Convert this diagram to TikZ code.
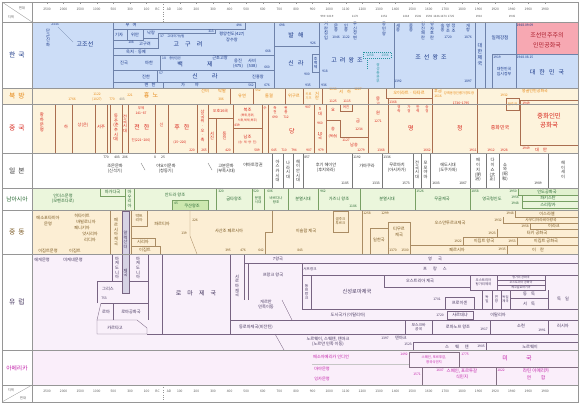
\documentclass[tikz,border=0pt]{standalone}
\usepackage{fontspec}
\setmainfont{Noto Sans CJK KR}
\usetikzlibrary{positioning}

\definecolor{krfill}{RGB}{204,221,247}
\definecolor{krline}{RGB}{110,130,170}
\definecolor{krtext}{RGB}{25,55,135}
\definecolor{dprkfill}{RGB}{247,168,178}
\definecolor{dprktext}{RGB}{170,25,40}
\definecolor{sstext}{RGB}{40,150,160}
\definecolor{cnfill}{RGB}{253,243,220}
\definecolor{cnline}{RGB}{170,110,80}
\definecolor{cntext}{RGB}{215,35,25}
\definecolor{nbtext}{RGB}{230,135,20}
\definecolor{jptext}{RGB}{50,50,50}
\definecolor{jpline}{RGB}{120,120,120}
\definecolor{safill}{RGB}{235,246,220}
\definecolor{sabox}{RGB}{205,232,175}
\definecolor{satext}{RGB}{40,105,50}
\definecolor{saline}{RGB}{120,160,100}
\definecolor{mefill}{RGB}{252,238,212}
\definecolor{metext}{RGB}{120,85,30}
\definecolor{meline}{RGB}{170,140,100}
\definecolor{eufill}{RGB}{249,240,250}
\definecolor{eutext}{RGB}{70,55,95}
\definecolor{euline}{RGB}{120,100,130}
\definecolor{alexfill}{RGB}{214,210,228}
\definecolor{amfill}{RGB}{250,238,250}
\definecolor{amtext}{RGB}{195,35,170}
\definecolor{amline}{RGB}{130,110,130}
\definecolor{gridgray}{RGB}{150,150,150}
\definecolor{headtext}{RGB}{90,90,90}

\newcommand{\fs}[1]{\fontsize{#1}{#1}\selectfont}
\newcommand{\til}{\textasciitilde}
\newcounter{nd}
\newcommand{\yr}[3][]{\stepcounter{nd}\node [yr, #1] (y\thend) at (#2) {#3};}
\newcommand{\lbl}[3][]{\stepcounter{nd}\node [lbl, #1] (l\thend) at (#2) {#3};}
\newcommand{\vlbl}[3][]{\stepcounter{nd}\node [vlbl, #1] (v\thend) at (#2) {#3};}

\tikzset{
  yr/.style = {inner sep = 0pt, font = \fs{3.3}},
  lbl/.style = {inner sep = 0pt, align = center, font = \fontsize{4.2}{5.2}\selectfont},
  vlbl/.style = {inner sep = 0pt, align = center, font = \fontsize{4.2}{4.7}\selectfont},
  big/.style = {font = \fontsize{6}{10}\selectfont},
  rowname/.style = {inner sep = 0pt, font = \fs{6.8}},
  rowline/.style = {draw = gridgray, line width = 0.5pt},
  tickmark/.style = {draw = gridgray, line width = 0.3pt},
  part/.style = {line width = 0.35pt}
}

\begin{document}
\begin{tikzpicture}[x = 1pt, y = -1pt]
\useasboundingbox (0,0) rectangle (580,404);
\fill [white] (0,0) rectangle (580,404);

%% Backgrounds
\fill [krfill] (32,22) rectangle (578,88);
\fill [dprkfill] (516,22) rectangle (578,54);
\fill [cnfill] (32,88) rectangle (578,153);
\fill [cnfill] (2,88) rectangle (32,104);
\fill [safill] (32,188) rectangle (578,210);
\fill [mefill] (32,210) rectangle (578,254);
\fill [eufill] (32,254) rectangle (578,350);
\fill [amfill] (32,350) rectangle (578,385);

%% Time axis
\foreach \lab [count = \i from 0] in {2500,2000,1500,1000,500,300,100} {
  \node [yr, text = headtext] (top\i) at ({47+16.6*\i},9) {\lab};
  \node [yr, text = headtext] (bot\i) at ({47+16.6*\i},391) {\lab};
  \draw [tickmark] ({47+16.6*\i},2) -- ({47+16.6*\i},4.5);
}
\foreach \lab [count = \i from 8] in {100,200,300,400,500,600,700,800,900,1000,1100,1200,1300,1400,1500,1600,1700,1800,1900,1920,1940,1960,1980} {
  \node [yr, text = headtext] (top\i) at ({47+16.6*\i},9) {\lab};
  \node [yr, text = headtext] (bot\i) at ({47+16.6*\i},391) {\lab};
  \draw [tickmark] ({47+16.6*\i},2) -- ({47+16.6*\i},4.5);
}
\node [yr, text = headtext] (bct) at (157.5,9) {BC};
\node [yr, text = headtext] (adt) at (169,9) {AD};
\node [yr, text = headtext] (bcb) at (157.5,391) {BC};
\node [yr, text = headtext] (adb) at (169,391) {AD};
\draw [gridgray, dotted] (163.4,2) -- (163.4,22);
\draw [gridgray, dotted] (163.4,385) -- (163.4,402);

%% Event years
\begin{scope} [text = headtext]
  \yr[font = \fs{2.9}]{327,16}{993\til1019}
  \yr[font = \fs{2.9}]{355,16}{1170}
  \yr[font = \fs{2.9}]{384,16}{1351}
  \yr[font = \fs{2.9}]{406,16}{1418}
  \yr[font = \fs{2.9}]{418,16}{1506}
  \yr[font = \fs{2.9}]{429,16}{1592}
  \yr[font = \fs{2.9}]{436.5,16}{1636}
  \yr[font = \fs{2.9}]{443.5,16}{1674}
  \yr[font = \fs{2.9}]{451,16}{1725}
  \yr[font = \fs{2.9}]{479,16}{1910}
  \yr[font = \fs{2.9}]{512,16}{1945}
\end{scope}

%% Corners
\draw [tickmark] (2,2) -- (32,22);
\node [yr, text = headtext] (cy1) at (22,8) {연대};
\node [yr, text = headtext] (cx1) at (11,17) {지역};
\draw [tickmark] (2,402) -- (32,385);
\node [yr, text = headtext] (cx2) at (11,390) {지역};
\node [yr, text = headtext] (cy2) at (23,398) {연대};

%% Row names
\node [rowname, text = krtext] (rkr) at (17,55) {한\hspace{3pt}국};
\node [rowname, text = nbtext] (rnb) at (17,96) {북\hspace{3pt}방};
\node [rowname, text = cntext] (rcn) at (17,128) {중\hspace{3pt}국};
\node [rowname, text = jptext] (rjp) at (17,171) {일\hspace{3pt}본};
\node [rowname, text = satext, font = \fs{5.8}] (rsa) at (17,199) {남아시아};
\node [rowname, text = metext] (rme) at (17,232) {중\hspace{3pt}동};
\node [rowname, text = eutext] (reu) at (17,302) {유\hspace{3pt}럽};
\node [rowname, text = amtext, font = \fs{5.8}] (ram) at (17,368) {아메리카};

%%% Korea
\begin{scope} [color = krline, text = krtext, part]
  %% Gojoseon
  \vlbl{48,38}{단\\군\\신\\화}
  \yr{55,24}{2333}
  \draw (58,27) -- (73,42);
  \lbl[big]{85,44}{고조선}
  \draw (113,22) -- (113,88);
  \draw (113,29) -- (245,29) -- (245,22);
  \lbl{131,25}{부\hspace{3pt}여}
  \yr{239,25.5}{494}
  \lbl{119,35}{기자}
  \lbl{135,35}{위만}
  \lbl{151,33}{낙랑}
  \draw (127,29) -- (127,40);
  \draw (113,40) -- (143,40) -- (143,29);
  \draw (143,38) -- (158,38) -- (158,33) -- (215,33) -- (215,29);
  \yr{211,31}{313}
  \yr{131,42.5}{108}
  \lbl{145,44}{고구려}
  \draw (113,48) -- (158,48) -- (158,38);
  \lbl{136,51.5}{옥저 · 동예}
  %% Goguryeo
  \yr{162,36}{37}
  \lbl[font = \fs{3.1}]{176,36}{고대국가성립}
  \lbl[big]{188,44}{고\hspace{6pt}구\hspace{6pt}려}
  \lbl{232,37}{평양천도(427)\\장수왕}
  \yr{268,51}{668}
  \draw (113,55) -- (274,55);
  \draw (274,22) -- (274,88);
  %% Baekje
  \lbl{124,63}{진국}
  \lbl{149,63}{마한}
  \draw (160,55) -- (160,70);
  \yr{164,58}{18}
  \lbl[font = \fs{3.1}]{175,58}{중앙집권}
  \lbl[big]{195,64}{백\hspace{24pt}제}
  \lbl{220,58}{근초고왕}
  \lbl{238,63.5}{웅진\\(475)}
  \lbl{252,63.5}{사비\\(538)}
  \yr{267,67}{660}
  \draw (113,70) -- (274,70);
  %% Silla, Gaya
  \lbl{146,76.5}{진한}
  \yr{161,73}{57}
  \draw (157,70) -- (157,82);
  \lbl[big]{205,76.5}{신\hspace{14pt}라}
  \lbl{258,76.5}{진흥왕}
  \draw (113,82) -- (255,82) -- (255,88);
  \draw (163,82) -- (163,88);
  \lbl{150,85}{변\hspace{3pt}한}
  \lbl{190,85}{가\hspace{10pt}야}
  \yr{251,85.5}{562}
  \yr{267,85.5}{676}
  %% Balhae, Unified Silla
  \draw (274,46) -- (319,46);
  \draw (319,22) -- (319,88);
  \yr{282,25}{698}
  \lbl[big]{296,35}{발\hspace{4pt}해}
  \yr{313,43}{926}
  \lbl[big]{296,63}{신\hspace{4pt}라}
  \draw (312,54) rectangle (319,72);
  \vlbl[font = \fontsize{3.8}{4.4}\selectfont]{315.5,63}{후\\백\\제}
  \yr{307,74}{900}
  \yr{325,71}{918}
  \yr{308,85.5}{935}
  \yr{324,85.5}{936}
  %% Goryeo
  \vlbl{326,31}{거\\란\\침\\입}
  \vlbl{336,28}{문\\종}
  \yr{336,37}{1046}
  \vlbl{346,28}{인\\종}
  \yr{346,37}{1122}
  \vlbl{355,31}{무\\신\\정\\변}
  \vlbl{384,29}{공\\민\\왕}
  \lbl[big]{347,60}{고\hspace{3pt}려\hspace{3pt}왕\hspace{3pt}조}
  \begin{scope} [color = sstext, text = sstext, dash pattern = on 1pt off 1pt]
    \draw (363,52) rectangle (391,58);
    \draw (367,58) -- (367,70);
    \yr{370,55}{1258}
    \yr{385,55}{1356}
    \vlbl[font = \fontsize{3.6}{4.1}\selectfont]{378,73}{쌍\\성\\총\\관\\부}
  \end{scope}
  %% Joseon
  \draw (394,22) -- (394,88);
  \vlbl{398,28}{세\\종}
  \vlbl{411,28}{중\\종}
  \vlbl{423,31}{임\\진\\왜\\란}
  \vlbl{432,31}{병\\자\\호\\란}
  \vlbl{442.5,28}{숙\\종}
  \vlbl{448,28}{영\\조}
  \vlbl{453.5,28}{정\\조}
  \yr{448,37}{1720}
  \vlbl{468,28}{개\\항}
  \yr{468,37}{1876}
  \lbl[big]{431,57}{조\hspace{3pt}선\hspace{3pt}왕\hspace{3pt}조}
  \yr{398,81}{1392}
  \yr{468,81}{1897}
  %% Daehan jeguk and after
  \draw (475,22) -- (475,88);
  \draw (485,22) -- (485,88);
  \vlbl[font = \fontsize{5}{6}\selectfont]{480,55}{대\\한\\제\\국}
  \lbl[font = \fs{4.6}]{500,38}{일제강점}
  \draw (492,88) -- (492,54) -- (578,54);
  \draw (516,22) -- (516,88);
  \yr{497,57}{1919}
  \lbl[font = \fontsize{3.9}{5}\selectfont]{504,72}{대한민국\\임시정부}
  \yr{525,25}{1948.09.09}
  \lbl[big, text = dprktext]{547,40}{조선민주주의\\인민공화국}
  \yr{525,57}{1948.08.15}
  \lbl[big]{547,72}{대\hspace{4pt}한\hspace{4pt}민\hspace{4pt}국}
\end{scope}

%%% North and China
\begin{scope} [color = cnline, text = nbtext, part]
  %% North
  \yr{72,99}{1766}
  \yr{97,94}{1122}
  \yr{97,99}{(1027)}
  \yr{112,99}{770}
  \yr[text = gray]{122,99}{403}
  \yr{130,95}{221}
  \lbl[big]{151,95}{흉\hspace{3pt}노}
  \foreach \xx in {230,253,285,303,322}
    \draw (\xx,88) -- (\xx,104);
  \lbl{205,91}{선비}
  \lbl{222,91}{탁발}
  \yr{221,99}{386}
  \lbl{242,96}{유연}
  \yr{258,90}{552}
  \lbl{269,96}{돌궐}
  \lbl{294,96}{위구르}
  \vlbl[font = \fontsize{3.2}{3.8}\selectfont]{308.5,96}{키르\\기즈}
  \vlbl{317,96}{거\\란}
  \lbl{345,92}{서\hspace{4pt}하}
  \yr{333,89.5}{1038}
  \yr{358,89.5}{1227}
  \draw (386,88) -- (386,98) -- (432,98);
  \lbl{409,92.5}{오이라트 · 타타르}
  \lbl{438,91}{후금}
  \yr{438,96.5}{1616}
  \foreach \xx/\nm in {447/강희, 453/옹정, 459/건륭, 465/가경, 471/도광}
    \vlbl[font = \fontsize{3.3}{3.9}\selectfont]{\xx,93}{\nm};
  \lbl[font = \fs{4}]{535,91.5}{몽골인민공화국}
  \yr{504,95}{1932}
  \draw (506,98) rectangle (519,110);
  \lbl[font = \fs{3.3}]{512.5,104}{만주국}

  %% China
  \begin{scope} [text = cntext]
    \foreach \xx in {55,72,95,107,110,122,128,155,168,197,208,262,268,314,326}
      \draw (\xx,104) -- (\xx,153);
    \draw (368,88) -- (368,153);
    \draw (388,98) -- (388,153);
    \draw (432,88) -- (432,153);
    \draw (477,88) -- (477,153);
    \vlbl[font = \fontsize{4.4}{5}\selectfont]{42,122}{황\\하\\문\\명}
    \lbl{66,127}{하}
    \lbl{83,125}{상(은)}
    \lbl{101,127}{서주}
    \vlbl{116,128}{동\\주\\(춘\\추\\시\\대)}
    \vlbl{125,124}{전\\국\\시\\대}
    \lbl[font = \fs{3.4}]{141,140}{진(221\til206)}
    \lbl[font = \fs{3.4}]{141,108}{무제}
    \yr{141,113}{141\til87}
    \lbl[big]{142,127}{전\hspace{4pt}한}
    \lbl{161.5,125}{신}
    \lbl[big]{182,127}{후\hspace{4pt}한}
    \yr{180,142}{(25\til220)}
    \yr{192,150}{220}
    \vlbl{202.5,126}{삼\\국\\위\\·\\오\\·\\촉}
    \yr{204,150}{265}
    \draw (208,118) -- (233,118);
    \draw (233,104) -- (233,153);
    \draw (216,118) -- (216,153);
    \draw (233,128) -- (262,128);
    \lbl[font = \fs{3.9}]{220.5,111}{오호16국}
    \vlbl{212,136}{서\\진}
    \vlbl{224.5,136}{동\\진}
    \yr{228,150}{420}
    \lbl{247.5,115}{북조\\{\fs{3}(북위,동위,}\\{\fs{3}서위,북제,북주)}}
    \yr{237,125}{439}
    \lbl{247.5,137}{남조}
    \lbl[font = \fs{3}]{247.5,143}{(송·제·양·진)}
    \yr{257,150}{589}
    \lbl[font = \fs{3.6}]{265,108}{수}
    \vlbl[font = \fontsize{3.5}{4}\selectfont]{275,110}{측\\천}
    \yr{275,117}{690}
    \vlbl[font = \fontsize{3.5}{4}\selectfont]{286,110}{현\\종}
    \yr{286,117}{712}
    \lbl[big]{292,131}{당}
    \yr{274,150}{645}
    \yr{284,150}{710}
    \yr{294,150}{794}
    \yr{308,107}{907}
    \yr{309,150}{907}
    \vlbl{320,112}{5\\대}
    \yr{320,123}{960}
    \vlbl{320,136}{10\\국}
    \yr{321,150}{979}
    %% Liao, Song, Jin
    \lbl{333,110}{요}
    \yr{333,101}{1125}
    \draw (326,120) -- (340,120) -- (340,137) -- (368,137);
    \draw (340,104) -- (340,111) -- (352,111) -- (352,104);
    \lbl[font = \fs{3.4}]{346,107.5}{여진}
    \yr{347,101}{1115}
    \lbl{358,121}{금}
    \yr{359,129}{1234}
    \lbl{333,129}{송}
    \lbl[font = \fs{3.5}]{333,136}{(북송)}
    \yr{346,140}{1127}
    \lbl{354,145}{남송}
    \yr{361,150}{1279}
    %% Yuan, Ming, Qing
    \vlbl{378,101}{몽\\고}
    \lbl{378,113}{원}
    \yr{378,121}{1271}
    \yr{381,150}{1368}
    \yr{393,102}{1368}
    \vlbl[font = \fontsize{3.5}{4}\selectfont]{399,109}{영\\락}
    \vlbl[font = \fontsize{3.5}{4}\selectfont]{409,109}{가\\정}
    \vlbl[font = \fontsize{3.5}{4}\selectfont]{418,109}{만\\력}
    \vlbl[font = \fontsize{3.5}{4}\selectfont]{427,109}{숭\\정}
    \lbl[big]{411,128}{명}
    \yr{427,150}{1662}
    \yr{461,103}{1736\til1795}
    \lbl[big]{460,128}{청}
    \yr{473,150}{1911}
    \lbl[font = \fs{5}]{500,128}{중화민국}
    \yr{491,150}{1912}
    \yr{504,150}{1928}
    \draw (520,100) rectangle (578,145);
    \yr{526,103}{1949}
    \lbl[font = \fontsize{6.5}{9}\selectfont]{549,121}{중화인민\\공화국}
    \yr{526,148}{1949}
    \lbl{541,149.5}{대\hspace{4pt}만}
  \end{scope}
\end{scope}

%%% Japan
\begin{scope} [color = jpline, text = jptext, part]
  \yr{106,157}{770}
  \yr{117,157}{403}
  \yr{125,157}{206}
  \yr{155,157}{8}
  \yr{163,157}{25}
  \lbl{115,169}{조몬문화\\(신석기)}
  \draw (141,163) -- (145,170);
  \lbl{166,169}{야요이문화\\(청동기)}
  \draw (208,163) -- (212,170);
  \lbl{226,169}{고분문화\\(부족시대)}
  \lbl{253,165}{야마토정권}
  \foreach \xx in {272,283,293,303,352,382,413,421,430,470,486,499,548}
    \draw (\xx,153) -- (\xx,188);
  \vlbl{277.5,171}{아\\스\\카\\시\\대}
  \vlbl{288,170}{나\\라\\시\\대}
  \vlbl{298,171}{헤\\이\\안\\시\\대}
  \yr{307,157}{857}
  \lbl{326,168}{후기 헤이안\\(후지와라)}
  \yr{345,183}{1185}
  \yr{357,157}{1192}
  \lbl{367,166}{가마쿠라}
  \yr{376,183}{1333}
  \yr{387,157}{1336}
  \lbl{397,168}{무로마치\\(아시카가)}
  \yr{406,183}{1573}
  \vlbl{417,170}{전\\국\\시\\대}
  \vlbl{425.5,170}{모\\모\\야\\마}
  \yr{436,183}{1603}
  \lbl{448,168}{에도시대\\(도쿠가와)}
  \yr{463,183}{1867}
  \vlbl{478,170}{메\\이\\지\\(明\\治)}
  \vlbl{492.5,170}{다\\이\\쇼\\(大\\正)}
  \vlbl{505,172}{쇼\\와\\(昭\\和)}
  \yr{538,183}{1989}
  \vlbl{563,170}{헤\\이\\세\\이}
\end{scope}

%%% South Asia
\begin{scope} [color = saline, text = satext, part]
  \lbl{63,199}{인더스문명\\(모헨조다로)}
  \draw (100,188) -- (100,196) -- (125,196);
  \lbl{112.5,192}{마가다국}
  \draw (125,188) -- (125,210);
  \draw (134,188) -- (134,210);
  \vlbl{129.5,199}{마\\우\\리\\아}
  \lbl{175,195}{안드라 왕조}
  \filldraw [fill = sabox] (172,210) -- (172,200) -- (208,200) -- (208,210);
  \yr{176,203}{45}
  \lbl{192,205.5}{쿠샨왕조}
  \foreach \xx in {216,252,264,288,318,360,415,470}
    \draw (\xx,188) -- (\xx,210);
  \yr{221,191}{320}
  \lbl{234,199}{굽타왕조}
  \yr{256,191}{520}
  \lbl[font = \fontsize{3.5}{4.5}\selectfont]{258,200}{분열\\시대}
  \yr{270,191}{606}
  \lbl[font = \fontsize{3.5}{4.5}\selectfont]{276,200}{바르다나\\왕조}
  \lbl{303,199}{분열시대}
  \yr{323,191}{962}
  \lbl{339,199}{가즈니 왕조}
  \yr{353,206}{1186}
  \lbl{387,199}{분열시대}
  \yr{420,191}{1526}
  \lbl{442,199}{무굴제국}
  \yr{475,191}{1858}
  \lbl{492,199}{영국령인도}
  \yr{513,191}{1950}
  \filldraw [fill = sabox!60!white] (518,188) rectangle (578,195);
  \lbl{547,191.5}{인도공화국}
  \draw (522,195) -- (522,208) -- (578,208);
  \draw (522,201) -- (578,201);
  \lbl{548,198}{파키스탄}
  \lbl{548,204.5}{스리랑카}
  \yr{515,197.5}{1956}
  \yr{515,203.5}{1948}
\end{scope}

%%% Middle East
\begin{scope} [color = meline, text = metext, part]
  \lbl{48,221}{메소포타미아\\문명}
  \lbl{82,216}{히타이트}
  \lbl{86,222}{바빌로니아}
  \lbl{82,228}{페니키아}
  \lbl{90,234}{앗시리아}
  \lbl{90,240}{리디아}
  \lbl{48,251}{이집트문명}
  \lbl{75,251}{이집트}
  \draw (110,210) -- (110,254);
  \vlbl{116,232}{페\\르\\시\\아\\제\\국}
  \draw (131,210) -- (131,254);
  \draw (131,226) -- (147,226) -- (147,210);
  \lbl[font = \fontsize{3.8}{4.6}\selectfont]{139,218}{박트\\리아}
  \lbl{162,224}{파르티아}
  \draw (131,238) -- (155,238) -- (155,246) -- (160,246) -- (160,254);
  \draw (131,246) -- (155,246);
  \lbl{143,242}{시리아}
  \lbl{145,250}{이집트}
  \yr{184,233}{139}
  \draw (190,210) -- (190,236) -- (197,254);
  \yr{195,220}{226}
  \lbl{229,231}{사산조 페르시아}
  \yr{228,250}{395}
  \yr{243,250}{476}
  \yr{261,250}{642}
  \draw (265,254) -- (265,232) -- (272,232) -- (272,210);
  \lbl{306,231}{이슬람 제국}
  \yr{300,250}{843}
  \draw (333,211) rectangle (348,232);
  \lbl[font = \fontsize{3.5}{4.5}\selectfont]{340.5,221}{셀주크\\투르크}
  \draw (362,210) -- (362,254);
  \yr{367,213}{1258}
  \draw (370,254) -- (370,228) -- (388,228);
  \lbl{379,240}{일한국}
  \yr{385,213}{1299}
  \draw (388,222) rectangle (410,254);
  \lbl{399,232}{티무르\\제국}
  \yr{393,250}{1370}
  \yr{405,250}{1500}
  \lbl{450,223}{오스만투르크제국}
  \draw (515,210) -- (515,217) -- (578,217);
  \yr{510,213.5}{1948}
  \lbl{547,213.5}{이스라엘}
  \draw (503,217) -- (503,223) -- (578,223);
  \yr{498,220}{1932}
  \lbl[font = \fs{3.8}]{541,220}{사우디아라비아왕국}
  \draw (530,223) -- (530,229) -- (578,229);
  \yr{525,226}{1958}
  \lbl{554,226}{이라크}
  \draw (497,229) -- (497,237) -- (578,237);
  \yr{492,233}{1923}
  \lbl{537,233}{터키 공화국}
  \draw (410,245) -- (578,245);
  \draw (463,237) -- (463,245);
  \draw (463,237) -- (497,237);
  \yr{458,241}{1922}
  \lbl{484,241}{이집트 왕국}
  \draw (517,237) -- (517,245);
  \yr{512,241}{1953}
  \lbl{546,241}{이집트 공화국}
  \lbl{457,249.5}{페르시아}
  \draw (507,245) -- (507,254);
  \yr{502,249.5}{1935}
  \lbl{538,249.5}{이\hspace{4pt}란}
\end{scope}

%%% Europe
\begin{scope} [color = euline, text = eutext, part]
  \lbl{42,260}{에게문명}
  \lbl{73,260}{미케네문명}
  \draw (112,254) -- (112,281);
  \draw (148,254) -- (148,320);
  \vlbl{117,268}{마\\케\\도\\니\\아}
  \vlbl{138,268}{마\\케\\도\\니\\아}
  \filldraw [fill = alexfill] (122,211) rectangle (129,293);
  \vlbl{125.5,240}{알\\렉\\산\\더}
  \vlbl{125.5,273}{제\\국}
  %% Greece, Rome
  \draw (97,303) -- (97,281) -- (122,281);
  \draw (129,281) -- (148,281);
  \lbl{108,289}{그리스}
  \yr{104,298}{753}
  \draw (101,303) -- (148,303);
  \draw (101,303) -- (97,320);
  \draw (113,303) -- (113,320);
  \lbl{106,312}{로마}
  \lbl{131,312}{로마공화국}
  \draw (97,320) -- (137,320) -- (147,328) -- (147,334) -- (97,334) -- cycle;
  \lbl{115,327.5}{카르타고}
  \draw (162,254) -- (162,334);
  \draw (147,334) -- (578,334);
  \lbl[big]{196,293}{로\hspace{6pt}마\hspace{6pt}제\hspace{6pt}국}
  \draw (230,254) -- (230,334);
  \draw (244,254) -- (244,300);
  \vlbl{237,286}{서\\로\\마\\제\\국}
  %% Western kingdoms
  \draw (244,263) -- (578,263);
  \lbl{278,258.5}{7왕국}
  \lbl{435,258.5}{영\hspace{6pt}국}
  \draw (248,263) -- (248,300);
  \lbl{273,275}{프랑크 왕국}
  \draw (302,263) -- (302,309);
  \draw (302,275) -- (578,275);
  \lbl[font = \fs{3.6}]{310,269}{서프랑크}
  \lbl{435,269}{프\hspace{6pt}랑\hspace{6pt}스}
  \draw (311,275) -- (311,309);
  \vlbl[font = \fontsize{3.8}{4.3}\selectfont]{306.5,292}{동\\프\\랑\\크}
  \lbl[font = \fs{5.2}]{357,292}{신성로마제국}
  \lbl{266,304.5}{게르만\\민족이동}
  \draw (282,300) -- (292,320);
  %% Austria, Germany
  \draw (384,275) -- (384,287) -- (470,287);
  \lbl{420,281}{오스트리아 제국}
  \draw (470,275) -- (470,290) -- (545,290) -- (545,275);
  \draw (497,275) -- (497,290);
  \lbl[font = \fontsize{3.4}{4.2}\selectfont]{483.5,282}{오스트리아\\헝가리제국}
  \draw (497,280) -- (545,280);
  \draw (497,285) -- (545,285);
  \lbl[font = \fs{3}]{521,277.5}{헝가리 공화국}
  \lbl[font = \fs{3}]{521,282.5}{오스트리아 공화국}
  \lbl[font = \fs{3}]{521,287.5}{체코슬로바키아}
  \foreach \xx in {482,492,501,510,548}
    \draw (\xx,290) -- (\xx,309);
  \draw (510,298) -- (548,298);
  \lbl{529,294}{동\hspace{4pt}독}
  \lbl{529,303.5}{서\hspace{4pt}독}
  \lbl{563,299}{독\hspace{4pt}일}
  \yr{437,299}{1701}
  \draw (445,297) rectangle (474,309);
  \lbl{459.5,303}{프로이센}
  \vlbl[font = \fontsize{3.5}{4}\selectfont]{487,299.5}{독\\일}
  \vlbl[font = \fontsize{3.5}{4}\selectfont]{496.5,299.5}{연\\방}
  \vlbl[font = \fontsize{3.3}{4}\selectfont]{505.5,299.5}{독일\\제국}
  %% Italy
  \draw (302,309) -- (578,309);
  \draw (230,320) -- (578,320);
  \lbl{348,315}{도시국가 (이탈리아)}
  \yr{440,315}{1720}
  \draw (447,311) rectangle (473,319);
  \lbl{460,315}{사르데냐}
  \lbl{498,314.5}{이탈리아}
  %% Byzantium, Russia
  \lbl{256,327}{동로마제국(비잔틴)}
  \draw (405,320) -- (405,334);
  \draw (432,320) -- (432,334);
  \lbl[font = \fontsize{3.8}{4.5}\selectfont]{418.5,327}{모스크바\\공국}
  \lbl{458,327}{로마노프 왕조}
  \yr{484,329.5}{1917}
  \draw (490,320) -- (490,334);
  \lbl{521,326}{소련}
  \yr{542,330.5}{1991}
  \draw (548,320) -- (548,334);
  \lbl{563,326}{러시아}
  %% Scandinavia
  \lbl{328,341.5}{노르웨이, 스웨덴, 덴마크\\(노르만 민족 이동)}
  \draw (275,334) -- (284,350);
  \yr{385,338}{1397}
  \lbl{401,338}{덴마크}
  \yr{408,344}{1523}
  \draw (413,342) -- (578,342);
  \draw (413,342) -- (413,350);
  \lbl{457,346.5}{스\hspace{6pt}웨\hspace{6pt}덴}
  \yr{481,346.5}{1905}
  \draw (486,342) -- (486,350);
  \lbl{530,346.5}{노르웨이}
\end{scope}

%%% America
\begin{scope} [color = amline, text = amtext, part]
  \lbl{331,357}{메소아메리카 인디언}
  \draw [gray!45, line width = 1pt] (312,364) -- (410,364);
  \lbl{322,369}{마야문명}
  \lbl{322,378.5}{잉카문명}
  \yr{404,354}{1492}
  \draw (409,352) rectangle (459,367);
  \lbl[font = \fontsize{3.4}{4.6}\selectfont]{434,359.5}{스페인, 포르투갈,\\영국식민지}
  \yr{465,354}{1775}
  \lbl[font = \fs{6}]{517,358.5}{미\hspace{18pt}국}
  \draw (459,367) -- (578,367);
  \yr{440,370}{1607}
  \yr{417,374}{1571}
  \draw (422,367) -- (422,385);
  \lbl[font = \fontsize{4.4}{5.6}\selectfont]{462,374}{스페인, 포르투갈\\식민지}
  \yr{501,370}{1822}
  \draw (496,367) -- (496,385);
  \lbl[font = \fontsize{4.6}{6.6}\selectfont]{536,374.5}{라틴 아메리카\\연\hspace{10pt}합}
\end{scope}

%% Grid
\foreach \yy in {22,88,104,153,188,210,254,350,385}
  \draw [rowline] (2,\yy) -- (578,\yy);
\draw [rowline] (32,2) -- (32,402);
\draw [rowline] (2,2) rectangle (578,402);

\end{tikzpicture}
\end{document}
